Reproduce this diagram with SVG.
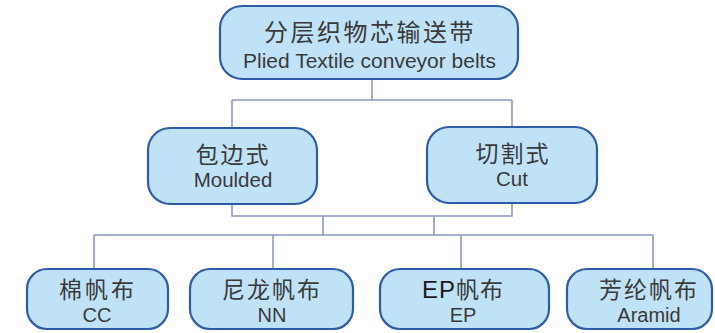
<svg xmlns="http://www.w3.org/2000/svg" width="715" height="333" viewBox="0 0 715 333">
<style>
.box{fill:#c0e2f6;stroke:#2f5ca8;stroke-width:2.2}
.zh{font-family:"Noto Sans CJK SC","Liberation Sans",sans-serif;fill:#3a3a3a;text-anchor:middle}
.en{font-family:"Liberation Sans",Arial,sans-serif;fill:#3a3a3a;text-anchor:middle}
.con{fill:none;stroke:#8a98c4;stroke-width:1.6}
</style>
<rect width="715" height="333" fill="#ffffff"/>
<g id="connectors">
<path class="con" d="M372 79 V100 M232 100 H512 M232 100 V128 M512 100 V127"/>
<path class="con" d="M232 204 V216 H512 V203 M323 216 V235 M434 216 V235"/>
<path class="con" d="M94 235 H653 M94 235 V269 M273 235 V269 M461 235 V269 M653 235 V269"/>
</g>
<g id="n-root">
<rect class="box" x="220" y="6" width="298" height="73" rx="22"/>
<text class="zh" x="370" y="41" font-size="24" letter-spacing="2.5">分层织物芯输送带</text>
<text class="en" x="369.5" y="68" font-size="21">Plied Textile conveyor belts</text>
</g>
<g id="n-moulded">
<rect class="box" x="148" y="128" width="169" height="76" rx="22"/>
<text class="zh" x="233" y="163" font-size="23" letter-spacing="2">包边式</text>
<text class="en" x="233" y="187" font-size="20.5">Moulded</text>
</g>
<g id="n-cut">
<rect class="box" x="427" y="127" width="170" height="76" rx="22"/>
<text class="zh" x="513" y="162" font-size="23" letter-spacing="2">切割式</text>
<text class="en" x="512" y="186" font-size="20.5">Cut</text>
</g>
<g id="n-cc">
<rect class="box" x="27" y="269" width="141" height="60" rx="20"/>
<text class="zh" x="98" y="298" font-size="23" letter-spacing="3">棉帆布</text>
<text class="en" x="97" y="322" font-size="20">CC</text>
</g>
<g id="n-nn">
<rect class="box" x="190" y="269" width="163" height="60" rx="20"/>
<text class="zh" x="272" y="298" font-size="23" letter-spacing="2">尼龙帆布</text>
<text class="en" x="272" y="322" font-size="20">NN</text>
</g>
<g id="n-ep">
<rect class="box" x="380" y="269" width="169" height="60" rx="20"/>
<text class="zh" x="463" y="298" font-size="23" letter-spacing="1"><tspan font-family="Liberation Sans, Arial, sans-serif" font-size="24" fill="#1a1a1a">EP</tspan>帆布</text>
<text class="en" x="463" y="322" font-size="20">EP</text>
</g>
<g id="n-aramid">
<rect class="box" x="567" y="269" width="145" height="60" rx="20"/>
<text class="zh" x="649" y="298" font-size="23" letter-spacing="2">芳纶帆布</text>
<text class="en" x="649" y="322" font-size="20">Aramid</text>
</g>
</svg>
